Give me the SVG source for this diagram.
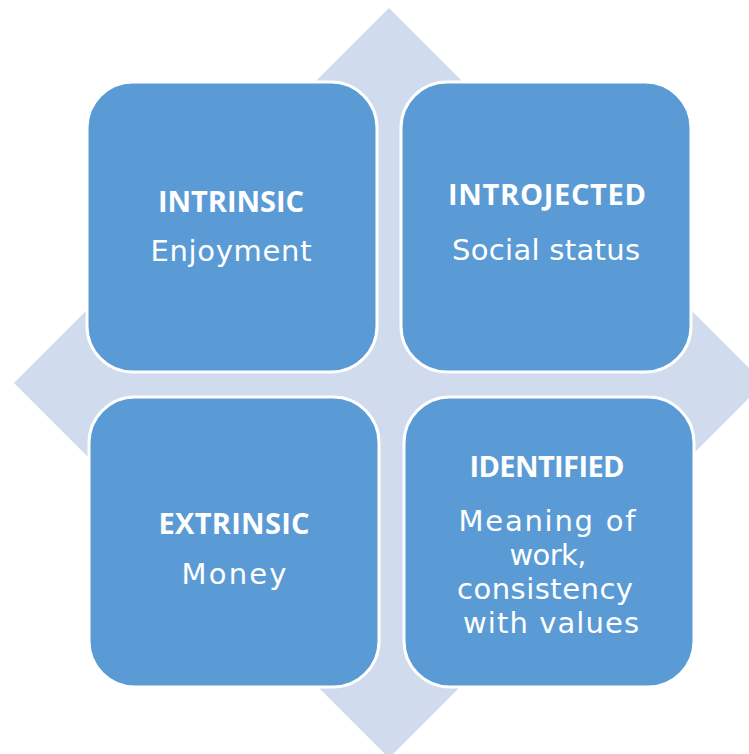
<svg xmlns="http://www.w3.org/2000/svg" width="749" height="754" viewBox="0 0 749 754">
  <style>
    .quad { fill: #5B9BD5; stroke: #FFFFFF; stroke-width: 3; }
    .title { font-family: "Open Sans", "DejaVu Sans", sans-serif; font-weight: bold; font-size: 29px; fill: #FFFFFF; text-anchor: middle; }
    .body { font-family: "DejaVu Sans", "Open Sans", sans-serif; font-size: 29px; fill: #FFFFFF; text-anchor: middle; }
  </style>
  <rect width="749" height="754" fill="#FFFFFF"/>
  <!-- background diamond behind the four quadrants -->
  <polygon id="diamond" points="389,8 764,383 389,758 14,383" fill="#D0DBEE"/>

  <g id="intrinsic">
    <rect class="quad" x="87" y="82" width="290" height="290" rx="46" ry="46"/>
    <text class="title" x="231" y="212" textLength="146">INTRINSIC</text>
    <text class="body" x="231" y="261" textLength="161">Enjoyment</text>
  </g>

  <g id="introjected">
    <rect class="quad" x="401" y="82" width="290" height="290" rx="46" ry="46"/>
    <text class="title" x="547" y="205" textLength="198">INTROJECTED</text>
    <text class="body" x="546" y="260" textLength="188">Social status</text>
  </g>

  <g id="extrinsic">
    <rect class="quad" x="89" y="397" width="290" height="290" rx="46" ry="46"/>
    <text class="title" x="234" y="534" textLength="151">EXTRINSIC</text>
    <text class="body" x="234" y="584" textLength="105">Money</text>
  </g>

  <g id="identified">
    <rect class="quad" x="404" y="397" width="290" height="290" rx="46" ry="46"/>
    <text class="title" x="547" y="477" textLength="155">IDENTIFIED</text>
    <!-- four-line description, 34px line pitch -->
    <text class="body" x="547" y="531" textLength="177">Meaning of</text>
    <text class="body" x="548" y="565" textLength="77">work,</text>
    <text class="body" x="545" y="599" textLength="176">consistency</text>
    <text class="body" x="551" y="633" textLength="176">with values</text>
  </g>

  <g id="connectors"></g>
</svg>
